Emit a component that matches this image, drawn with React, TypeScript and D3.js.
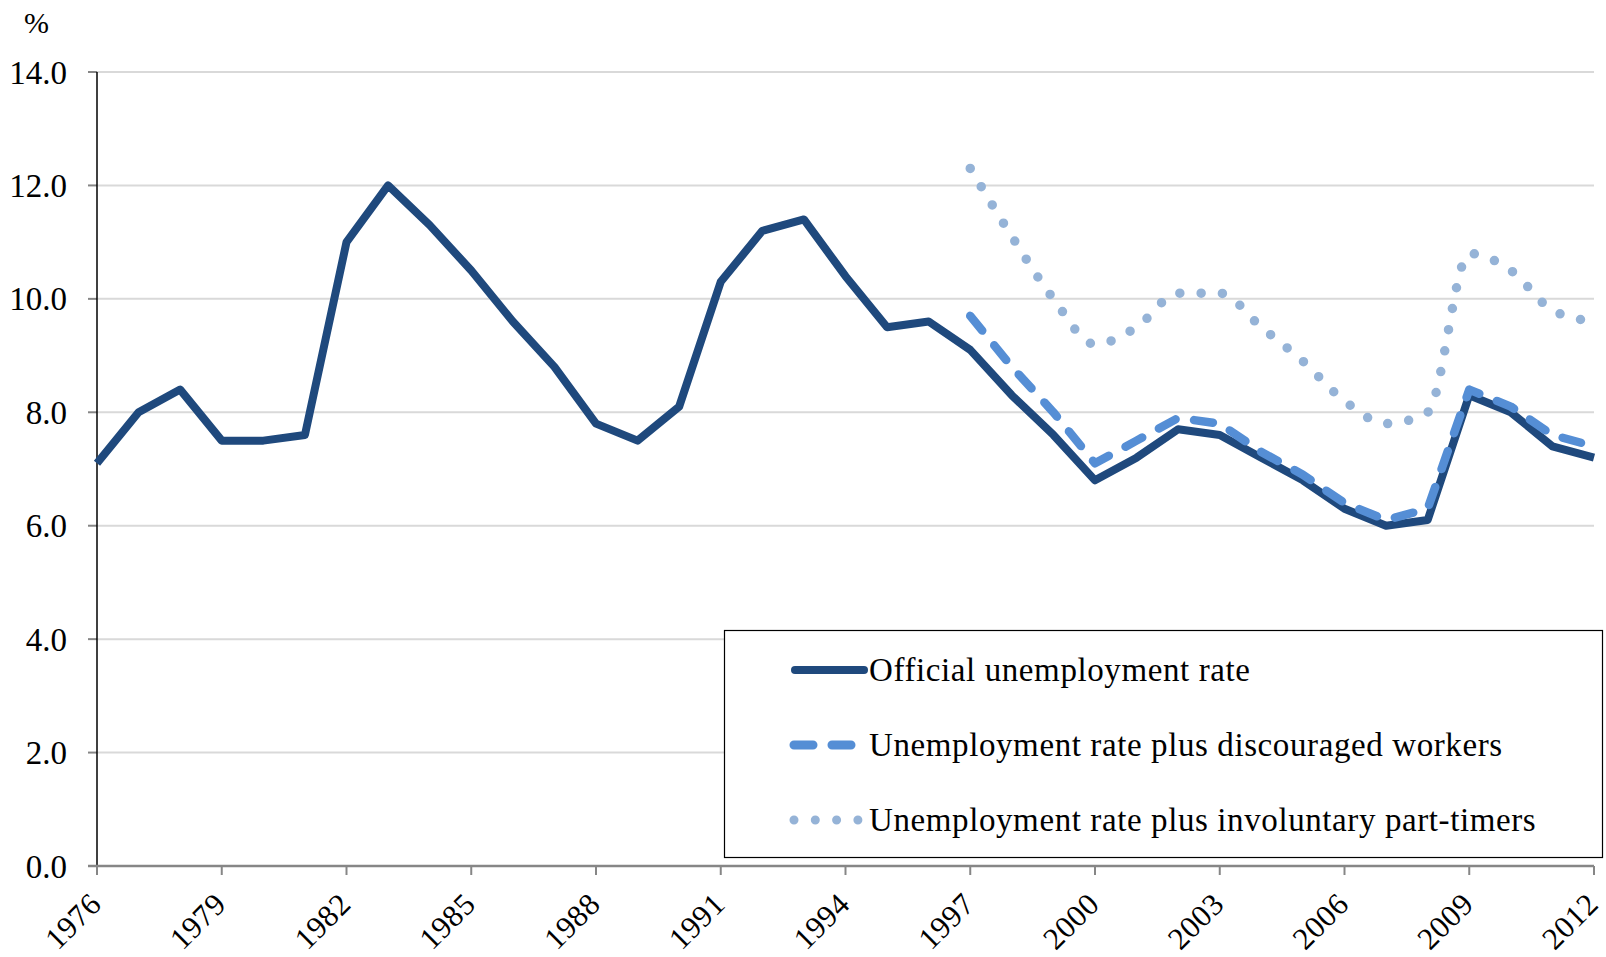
import { useEffect, useRef } from "react";
import * as d3 from "d3";

// years on the axis
const years: number[] = d3.range(1976, 2013);
const tickYears: number[] = [1976, 1979, 1982, 1985, 1988, 1991, 1994, 1997, 2000, 2003, 2006, 2009, 2012];
const yTicks: number[] = [0, 2, 4, 6, 8, 10, 12, 14];

// official rate, 1976-2012
const official: number[] = [
  7.1, 8.0, 8.4, 7.5, 7.5, 7.6, 11.0, 12.0, 11.3, 10.5, 9.6, 8.8, 7.8, 7.5, 8.1, 10.3, 11.2, 11.4, 10.4,
  9.5, 9.6, 9.1, 8.3, 7.6, 6.8, 7.2, 7.7, 7.6, 7.2, 6.8, 6.3, 6.0, 6.1, 8.3, 8.0, 7.4, 7.2,
];

// 1997-2012 only
const laterYears: number[] = d3.range(1997, 2013);
const discouraged: number[] = [9.7, 8.8, 8.0, 7.1, 7.5, 7.9, 7.8, 7.3, 6.9, 6.4, 6.1, 6.3, 8.4, 8.1, 7.6, 7.4];
const involuntary: number[] = [12.3, 11.1, 10.0, 9.2, 9.5, 10.1, 10.1, 9.5, 8.9, 8.2, 7.8, 8.0, 10.8, 10.5, 9.8, 9.6];

const seriesNames: string[] = [
  "Official unemployment rate",
  "Unemployment rate plus discouraged workers",
  "Unemployment rate plus involuntary part-timers",
];

interface Pt {
  x: number;
  y: number;
}

const FONT = "'Liberation Serif', serif";

function drawChart(el: SVGSVGElement) {
  const w = 1606;
  const h = 957;
  const left = 97;
  const right = 1594;
  const top = 72;
  const bottom = 866;

  const svg = d3.select(el);
  svg.selectAll("*").remove();
  svg.attr("width", w).attr("height", h);
  svg.append("rect").attr("width", w).attr("height", h).attr("fill", "white");

  const xScale = d3.scaleLinear().domain([1976, 2012]).range([left, right]);
  const yScale = d3.scaleLinear().domain([0, 14]).range([bottom, top]);

  // gridlines
  svg
    .append("g")
    .selectAll("line")
    .data(yTicks.filter((t) => t > 0))
    .join("line")
    .attr("x1", left)
    .attr("x2", right)
    .attr("y1", (d) => yScale(d))
    .attr("y2", (d) => yScale(d))
    .attr("stroke", "#d9d9d9")
    .attr("stroke-width", 2);

  // y ticks + labels
  const yAxis = svg.append("g");
  yAxis
    .selectAll("line")
    .data(yTicks)
    .join("line")
    .attr("x1", left - 9)
    .attr("x2", left)
    .attr("y1", (d) => yScale(d))
    .attr("y2", (d) => yScale(d))
    .attr("stroke", "#868686")
    .attr("stroke-width", 2);
  yAxis
    .selectAll("text")
    .data(yTicks)
    .join("text")
    .attr("x", 67)
    .attr("y", (d) => yScale(d))
    .attr("dy", "0.35em")
    .attr("text-anchor", "end")
    .attr("font-family", FONT)
    .attr("font-size", 33)
    .attr("fill", "#000")
    .text((d) => d.toFixed(1));

  svg
    .append("line")
    .attr("x1", left)
    .attr("x2", left)
    .attr("y1", top)
    .attr("y2", bottom)
    .attr("stroke", "#000")
    .attr("stroke-width", 1.5);

  // x axis
  const xAxis = svg.append("g");
  xAxis
    .append("line")
    .attr("x1", left - 9)
    .attr("x2", right)
    .attr("y1", bottom)
    .attr("y2", bottom)
    .attr("stroke", "#868686")
    .attr("stroke-width", 2.5);
  xAxis
    .selectAll("line.tick")
    .data(tickYears)
    .join("line")
    .attr("class", "tick")
    .attr("x1", (d) => xScale(d))
    .attr("x2", (d) => xScale(d))
    .attr("y1", bottom)
    .attr("y2", bottom + 9)
    .attr("stroke", "#868686")
    .attr("stroke-width", 2);
  xAxis
    .selectAll("text")
    .data(tickYears)
    .join("text")
    .attr("transform", (d) => `translate(${xScale(d) + 6},${bottom + 40}) rotate(-45)`)
    .attr("text-anchor", "end")
    .attr("font-family", FONT)
    .attr("font-size", 31)
    .attr("letter-spacing", 0.5)
    .attr("fill", "#000")
    .text((d) => String(d));

  svg
    .append("text")
    .attr("x", 24)
    .attr("y", 33)
    .attr("font-family", FONT)
    .attr("font-size", 30)
    .text("%");

  const officialPts: Pt[] = years.map((y, i) => ({ x: y, y: official[i] }));
  const discPts: Pt[] = laterYears.map((y, i) => ({ x: y, y: discouraged[i] }));
  const invPts: Pt[] = laterYears.map((y, i) => ({ x: y, y: involuntary[i] }));

  const line = d3
    .line<Pt>()
    .x((d) => xScale(d.x))
    .y((d) => yScale(d.y));
  const smooth = d3
    .line<Pt>()
    .x((d) => xScale(d.x))
    .y((d) => yScale(d.y))
    .curve(d3.curveMonotoneX);

  const styles = [
    { color: "#1f497d", dash: null as string | null },
    { color: "#558ed5", dash: "19 19" },
    { color: "#95b3d7", dash: "0 21.3" },
  ];

  svg
    .append("path")
    .datum(invPts)
    .attr("fill", "none")
    .attr("stroke", styles[2].color)
    .attr("stroke-width", 9.5)
    .attr("stroke-linecap", "round")
    .attr("stroke-dasharray", styles[2].dash)
    .attr("d", smooth);

  svg
    .append("path")
    .datum(officialPts)
    .attr("fill", "none")
    .attr("stroke", styles[0].color)
    .attr("stroke-width", 8)
    .attr("stroke-linejoin", "round")
    .attr("d", line);

  svg
    .append("path")
    .datum(discPts)
    .attr("fill", "none")
    .attr("stroke", styles[1].color)
    .attr("stroke-width", 8.5)
    .attr("stroke-linecap", "round")
    .attr("stroke-linejoin", "round")
    .attr("stroke-dasharray", styles[1].dash)
    .attr("d", line);

  // legend
  const lg = svg.append("g");
  lg.append("rect")
    .attr("x", 724.5)
    .attr("y", 630.5)
    .attr("width", 878)
    .attr("height", 227)
    .attr("fill", "white")
    .attr("stroke", "#000")
    .attr("stroke-width", 1.2);

  const rowY = [670, 745, 820];
  seriesNames.forEach((name, i) => {
    const s = styles[i];
    lg.append("line")
      .attr("x1", i === 0 ? 795 : 794)
      .attr("x2", i === 0 ? 864 : 866)
      .attr("y1", rowY[i])
      .attr("y2", rowY[i])
      .attr("stroke", s.color)
      .attr("stroke-width", i === 0 ? 8 : 9)
      .attr("stroke-linecap", "round")
      .attr("stroke-dasharray", s.dash);
    lg.append("text")
      .attr("x", 869)
      .attr("y", rowY[i])
      .attr("dy", "0.33em")
      .attr("font-family", FONT)
      .attr("font-size", 33)
      .attr("letter-spacing", 0.6)
      .attr("fill", "#000")
      .text(name);
  });
}

export default function App() {
  const ref = useRef<SVGSVGElement>(null);

  useEffect(() => {
    if (ref.current) drawChart(ref.current);
  }, []);

  return (
    <div style={{ position: "absolute", left: 0, top: 0 }}>
      <svg ref={ref} style={{ display: "block" }} />
    </div>
  );
}
